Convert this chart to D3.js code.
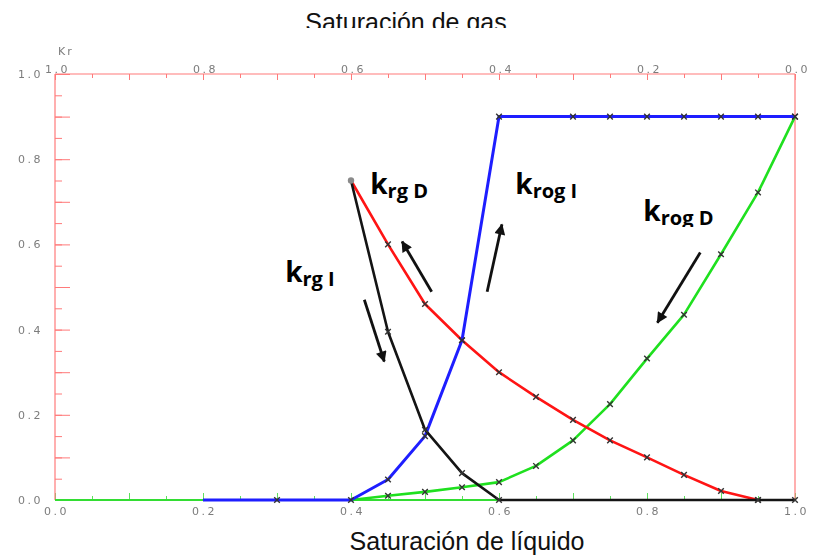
<!DOCTYPE html>
<html>
<head>
<meta charset="utf-8">
<script src="https://cdn.jsdelivr.net/npm/d3@7/dist/d3.min.js"></script>
<style>
  html, body { margin: 0; padding: 0; background: #fff; }
  svg { display: block; }
  .ax text { font-family: "DejaVu Sans", sans-serif; font-size: 11px; fill: #7c7c7c; letter-spacing: 2.5px; }
  .title { font-family: "Liberation Sans", Arial, sans-serif; font-size: 25px; fill: #111; }
  .klab { font-family: "Open Sans", "DejaVu Sans", sans-serif; font-weight: bold; fill: #000; }
</style>
</head>
<body>
<svg id="chart" width="815" height="560"></svg>
<script>
// Axis tick values
const liquidTicks = [0.0, 0.2, 0.4, 0.6, 0.8, 1.0];
const gasTicks = [1.0, 0.8, 0.6, 0.4, 0.2, 0.0];
const krTicks = [0.0, 0.2, 0.4, 0.6, 0.8, 1.0];

// krg D (drainage gas relative permeability)
const krgD_sl = [0.40, 0.45, 0.50, 0.55, 0.60, 0.65, 0.70, 0.75, 0.80, 0.85, 0.90, 0.95];
const krgD_kr = [0.75, 0.60, 0.46, 0.375, 0.30, 0.242, 0.188, 0.14, 0.10, 0.059, 0.021, 0.0];

// krg I (imbibition gas relative permeability)
const krgI_sl = [0.40, 0.45, 0.50, 0.55, 0.60, 0.95, 1.00];
const krgI_kr = [0.75, 0.395, 0.165, 0.063, 0.0, 0.0, 0.0];

// krog I (imbibition oil relative permeability)
const krogI_sl = [0.20, 0.30, 0.40, 0.45, 0.50, 0.55, 0.60, 0.70, 0.75, 0.80, 0.85, 0.90, 0.95, 1.00];
const krogI_kr = [0.0, 0.0, 0.0, 0.048, 0.15, 0.375, 0.90, 0.90, 0.90, 0.90, 0.90, 0.90, 0.90, 0.90];

// krog D (drainage oil relative permeability)
const krogD_sl = [0.40, 0.45, 0.50, 0.55, 0.60, 0.65, 0.70, 0.75, 0.80, 0.85, 0.90, 0.95, 1.00];
const krogD_kr = [0.0, 0.01, 0.019, 0.03, 0.042, 0.08, 0.14, 0.225, 0.332, 0.435, 0.577, 0.722, 0.90];

const svg = d3.select("#chart");
const plotL = 55, plotR = 795, plotT = 74, plotB = 500;

const x = d3.scaleLinear().domain([0, 1]).range([plotL, plotR]);
const xGas = d3.scaleLinear().domain([1, 0]).range([plotL, plotR]);
const y = d3.scaleLinear().domain([0, 1]).range([plotB, plotT]);
const fmt = d3.format(".1f");

const red = "#ff7a7a";
const axGreen = "#5ee05e";

// soft edge for the small axis numbers
svg.append("defs").append("filter").attr("id", "soft")
  .append("feGaussianBlur").attr("stdDeviation", 0.35);

// ---- axes ----
function styleAxis(g, color) {
  g.selectAll("line").attr("stroke", color);
  g.selectAll(".domain").remove();
}

// left axis: long ticks every 0.1, short ticks every 0.05, labels every 0.2
svg.append("g").attr("class", "ax").attr("transform", `translate(${plotL},0)`)
  .call(d3.axisLeft(y).tickValues(d3.range(0, 1.0001, 0.05)).tickSize(-7).tickFormat(""))
  .call(g => styleAxis(g, red));
svg.append("g").attr("class", "ax").attr("transform", `translate(${plotL},0)`)
  .call(d3.axisLeft(y).tickValues(d3.range(0, 1.0001, 0.1)).tickSize(-15).tickFormat(""))
  .call(g => styleAxis(g, red));
svg.append("g").attr("class", "ax").attr("transform", `translate(${plotL},0)`)
  .attr("filter", "url(#soft)")
  .call(d3.axisLeft(y).tickValues(krTicks).tickSize(0).tickPadding(12).tickFormat(fmt))
  .call(g => g.selectAll(".domain").remove());

// top axis (gas saturation)
svg.append("g").attr("class", "ax").attr("transform", `translate(0,${plotT})`)
  .call(d3.axisTop(xGas).tickValues(d3.range(0, 1.0001, 0.05)).tickSize(-4).tickFormat(""))
  .call(g => styleAxis(g, red));
svg.append("g").attr("class", "ax").attr("transform", `translate(0,${plotT})`)
  .call(d3.axisTop(xGas).tickValues(d3.range(0, 1.0001, 0.1)).tickSize(-6).tickFormat(""))
  .call(g => styleAxis(g, red));
svg.append("g").attr("class", "ax").attr("transform", `translate(2,${plotT})`)
  .attr("filter", "url(#soft)")
  .call(d3.axisTop(xGas).tickValues(gasTicks).tickSize(0).tickPadding(1).tickFormat(fmt))
  .call(g => g.selectAll(".domain").remove());

// bottom axis (liquid saturation)
svg.append("g").attr("class", "ax").attr("transform", `translate(0,${plotB})`)
  .call(d3.axisBottom(x).tickValues(d3.range(0, 1.0001, 0.05)).tickSize(-4).tickFormat(""))
  .call(g => styleAxis(g, axGreen));
svg.append("g").attr("class", "ax").attr("transform", `translate(0,${plotB})`)
  .call(d3.axisBottom(x).tickValues(d3.range(0, 1.0001, 0.1)).tickSize(-7).tickFormat(""))
  .call(g => styleAxis(g, axGreen));
svg.append("g").attr("class", "ax").attr("transform", `translate(1,${plotB})`)
  .attr("filter", "url(#soft)")
  .call(d3.axisBottom(x).tickValues(liquidTicks).tickSize(0).tickPadding(7).tickFormat(fmt))
  .call(g => g.selectAll(".domain").remove());

// frame lines
svg.append("line").attr("x1", plotL).attr("x2", plotR).attr("y1", plotT).attr("y2", plotT)
  .attr("stroke", red).attr("stroke-width", 1.2);
svg.append("line").attr("x1", plotL).attr("x2", plotL).attr("y1", plotT).attr("y2", plotB)
  .attr("stroke", red).attr("stroke-width", 1.2);
svg.append("line").attr("x1", plotR).attr("x2", plotR).attr("y1", plotT).attr("y2", plotB)
  .attr("stroke", red).attr("stroke-width", 1.2);
svg.append("line").attr("x1", plotL).attr("x2", plotR).attr("y1", plotB).attr("y2", plotB)
  .attr("stroke", "#33dd33").attr("stroke-width", 2.2);

svg.append("text").attr("x", 58).attr("y", 55).attr("filter", "url(#soft)")
  .style("font-family", "DejaVu Sans, sans-serif").style("font-size", "11px")
  .style("fill", "#7c7c7c").style("letter-spacing", "2px").text("Kr");

// ---- curves ----
const line = d3.line().x(d => x(d[0])).y(d => y(d[1]));
const series = [
  { sl: krogD_sl, kr: krogD_kr, color: "#1fe01f", w: 2.6 },
  { sl: krgD_sl, kr: krgD_kr, color: "#ff1414", w: 2.6 },
  { sl: krogI_sl, kr: krogI_kr, color: "#1e1eff", w: 3 },
  { sl: krgI_sl, kr: krgI_kr, color: "#141414", w: 2.6 }
];

series.forEach(s => {
  const pts = s.sl.map((v, i) => [v, s.kr[i]]);
  svg.append("path").datum(pts).attr("d", line)
    .attr("fill", "none").attr("stroke", s.color).attr("stroke-width", s.w)
    .attr("stroke-linejoin", "round");
  // small cross markers on data points
  svg.append("g").selectAll("path").data(pts.slice(1)).join("path")
    .attr("d", d => {
      const cx = x(d[0]), cy = y(d[1]), r = 2.8;
      return `M${cx - r},${cy - r}L${cx + r},${cy + r}M${cx - r},${cy + r}L${cx + r},${cy - r}`;
    })
    .attr("stroke", "#333").attr("stroke-width", 1.4);
});

// shared starting point of the gas curves
svg.append("circle").attr("cx", x(krgD_sl[0])).attr("cy", y(krgD_kr[0])).attr("r", 3.2)
  .attr("fill", "#8a8a8a");

// ---- arrows ----
svg.append("defs").append("marker")
  .attr("id", "head").attr("viewBox", "0 0 12 12").attr("refX", 11).attr("refY", 6)
  .attr("markerWidth", 13).attr("markerHeight", 11).attr("markerUnits", "userSpaceOnUse")
  .attr("orient", "auto")
  .append("path").attr("d", "M0,0L12,6L0,12Z").attr("fill", "#111");

const arrows = [
  [[0.509, 0.489], [0.469, 0.607]],
  [[0.584, 0.489], [0.604, 0.647]],
  [[0.418, 0.470], [0.445, 0.325]],
  [[0.872, 0.581], [0.814, 0.416]]
];
svg.append("g").selectAll("line").data(arrows).join("line")
  .attr("x1", d => x(d[0][0])).attr("y1", d => y(d[0][1]))
  .attr("x2", d => x(d[1][0])).attr("y2", d => y(d[1][1]))
  .attr("stroke", "#111").attr("stroke-width", 2.8)
  .attr("marker-end", "url(#head)");

// ---- curve labels ----
svg.append("defs").append("clipPath").attr("id", "cutD")
  .append("rect").attr("x", 0).attr("y", 0).attr("width", 815).attr("height", 227);

const labels = [
  { at: [0.426, 0.718], sub: "rg D" },
  { at: [0.622, 0.718], sub: "rog I" },
  { at: [0.795, 0.654], sub: "rog D", clip: true },
  { at: [0.311, 0.511], sub: "rg I" }
];
labels.forEach(l => {
  const t = svg.append("text").attr("class", "klab")
    .attr("x", x(l.at[0])).attr("y", y(l.at[1]));
  if (l.clip) t.attr("clip-path", "url(#cutD)");
  t.append("tspan").style("font-size", "28px").text("k");
  t.append("tspan").style("font-size", "20px").attr("dy", 4).text(l.sub);
});

// ---- titles ----
svg.append("text").attr("class", "title").attr("x", 406).attr("y", 31)
  .attr("text-anchor", "middle").text("Saturación de gas");
// the lower edge of the top title is hidden by a white band
svg.append("rect").attr("x", 280).attr("y", 28).attr("width", 260).attr("height", 14).attr("fill", "#fff");

svg.append("text").attr("class", "title").attr("x", 467).attr("y", 550)
  .attr("text-anchor", "middle").text("Saturación de líquido");
</script>
</body>
</html>
